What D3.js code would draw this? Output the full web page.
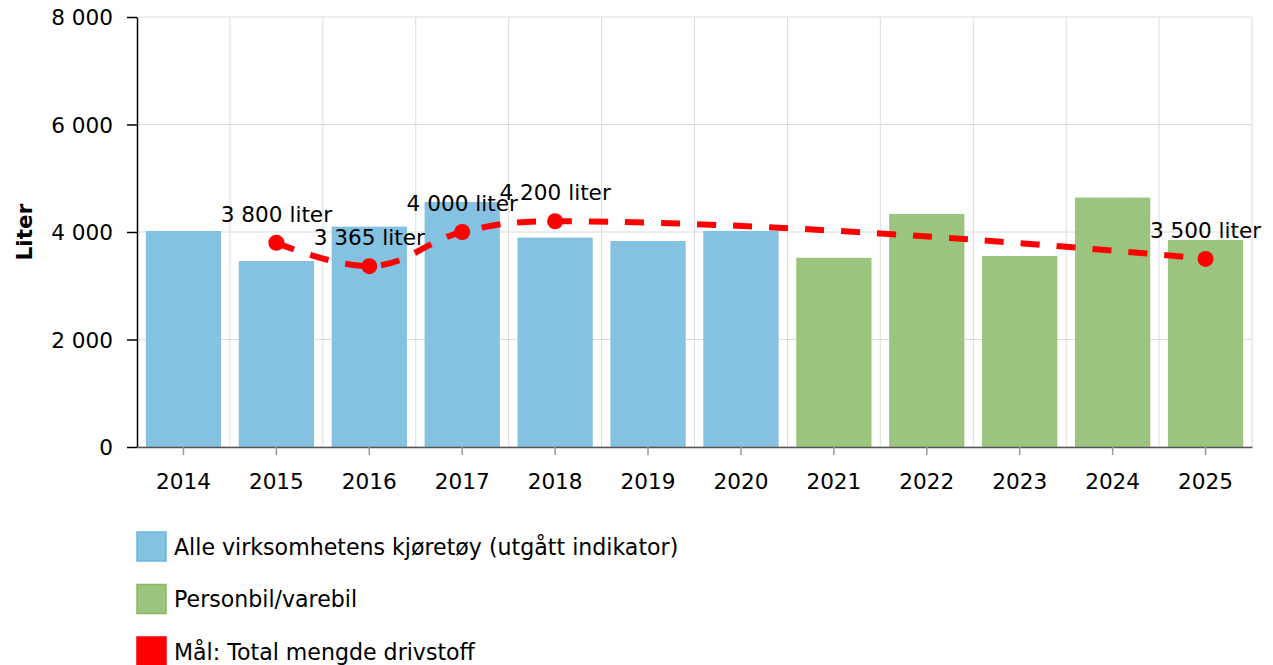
<!DOCTYPE html>
<html><head><meta charset="utf-8">
<script src="https://cdn.jsdelivr.net/npm/d3@7"></script>
<style>
body{margin:0;background:#fff;}
text{font-family:"DejaVu Sans",Verdana,sans-serif;}
</style></head>
<body>
<svg id="chart" width="1273" height="665"></svg>
<script>
const years = ["2014","2015","2016","2017","2018","2019","2020","2021","2022","2023","2024","2025"];
const blueYears = ["2014","2015","2016","2017","2018","2019","2020"];
const blueValues = [4020, 3460, 4100, 4560, 3895, 3833, 4020];
const greenYears = ["2021","2022","2023","2024","2025"];
const greenValues = [3520, 4335, 3553, 4640, 3850];
const targetYears = ["2015","2016","2017","2018","2025"];
const targetValues = [3800, 3365, 4000, 4200, 3500];
const yTicks = [0, 2000, 4000, 6000, 8000];
const seriesNames = ["Alle virksomhetens kjøretøy (utgått indikator)", "Personbil/varebil", "Mål: Total mengde drivstoff"];
const yTitle = "Liter";

const colBlue = "#85c1e1", colGreen = "#9bc47f", colRed = "#ff0000";
const svg = d3.select("#chart");
const M = {left:137, right:1252, top:17, bottom:447};
const loc = d3.formatLocale({thousands:"\u00a0", grouping:[3], decimal:",", currency:["",""]});
const fmt = loc.format(",d");
const FS = 21.6;

const x = d3.scaleBand().domain(years).range([M.left, M.right]).paddingInner(0.19).paddingOuter(0.095);
const xb = d3.scaleBand().domain(years).range([M.left, M.right]);
const y = d3.scaleLinear().domain([0, 8000]).range([M.bottom, M.top]);

// grid
const g = svg.append("g");
g.selectAll(".hg").data(yTicks).join("line")
  .attr("x1", M.left).attr("x2", M.right).attr("y1", d=>y(d)).attr("y2", d=>y(d))
  .attr("stroke", "#dcdcdc").attr("stroke-width", 1);
const vb = years.map(d=>xb(d)).slice(1).concat([M.right]);
g.selectAll(".vg").data(vb).join("line")
  .attr("x1", d=>d).attr("x2", d=>d).attr("y1", M.top).attr("y2", M.bottom)
  .attr("stroke", "#dcdcdc").attr("stroke-width", 1);

// bars
svg.append("g").selectAll("rect").data(blueYears.map((d,i)=>({k:d,v:blueValues[i]}))).join("rect")
  .attr("x", d=>x(d.k)).attr("width", x.bandwidth()).attr("y", d=>y(d.v)).attr("height", d=>y(0)-y(d.v))
  .attr("fill", colBlue);
svg.append("g").selectAll("rect").data(greenYears.map((d,i)=>({k:d,v:greenValues[i]}))).join("rect")
  .attr("x", d=>x(d.k)).attr("width", x.bandwidth()).attr("y", d=>y(d.v)).attr("height", d=>y(0)-y(d.v))
  .attr("fill", colGreen);

// axes
const yAxis = svg.append("g").attr("transform", `translate(${M.left},0)`)
  .call(d3.axisLeft(y).tickValues(yTicks).tickFormat(fmt).tickSize(10).tickSizeOuter(0));
yAxis.select(".domain").attr("stroke", "#000").attr("stroke-width", 1.5);
yAxis.selectAll(".tick line").attr("stroke", "#000").attr("stroke-width", 1.5);
yAxis.selectAll(".tick text").attr("font-size", FS).attr("fill", "#000").attr("x", -24).attr("dy", "0.35em");

const xAxis = svg.append("g").attr("transform", `translate(0,${M.bottom})`)
  .call(d3.axisBottom(xb).tickSize(8).tickSizeOuter(0));
xAxis.select(".domain").attr("stroke", "#555").attr("stroke-width", 1.5);
xAxis.selectAll(".tick line").attr("stroke", "#999").attr("stroke-width", 1.5);
xAxis.selectAll(".tick text").attr("font-size", FS).attr("fill", "#000").attr("y", 27).attr("dy", "0.71em");

svg.append("text").attr("transform", `translate(32,${(M.top+M.bottom)/2}) rotate(-90)`)
  .attr("text-anchor", "middle").attr("font-size", FS).attr("font-weight", "bold").text(yTitle);

// target spline (Highcharts-like)
const pts = targetYears.map((d,i)=>({px: xb(d)+xb.bandwidth()/2, py: y(targetValues[i]), v: targetValues[i]}));
const sm = 1.5, den = sm + 1;
pts.forEach((p,i)=>{
  if (i>0 && i<pts.length-1){
    const a = pts[i-1], n = pts[i+1];
    let lx=(sm*p.px+a.px)/den, ly=(sm*p.py+a.py)/den, rx=(sm*p.px+n.px)/den, ry=(sm*p.py+n.py)/den;
    if (rx!==lx){ const c=((ry-ly)*(rx-p.px))/(rx-lx)+p.py-ry; ly+=c; ry+=c; }
    if (ly>a.py && ly>p.py){ ly=Math.max(a.py,p.py); ry=2*p.py-ly; }
    else if (ly<a.py && ly<p.py){ ly=Math.min(a.py,p.py); ry=2*p.py-ly; }
    if (ry>n.py && ry>p.py){ ry=Math.max(n.py,p.py); ly=2*p.py-ry; }
    else if (ry<n.py && ry<p.py){ ry=Math.min(n.py,p.py); ly=2*p.py-ry; }
    p.lx=lx; p.ly=ly; p.rx=rx; p.ry=ry;
  }
});
const path = d3.path();
pts.forEach((p,i)=>{
  if (i===0) path.moveTo(p.px,p.py);
  else { const a=pts[i-1];
    path.bezierCurveTo(a.rx??a.px, a.ry??a.py, p.lx??p.px, p.ly??p.py, p.px, p.py); }
});
svg.append("path").attr("d", path.toString()).attr("fill","none").attr("stroke", colRed)
  .attr("stroke-width", 6).attr("stroke-dasharray", "19,17");
svg.append("g").selectAll("circle").data(pts).join("circle")
  .attr("cx", d=>d.px).attr("cy", d=>d.py).attr("r", 8).attr("fill", colRed);
svg.append("g").selectAll("text").data(pts).join("text")
  .attr("x", d=>d.px).attr("y", d=>d.py-21).attr("text-anchor","middle").attr("font-size", FS).attr("fill","#000")
  .text(d=>fmt(d.v)+" liter");

// legend
const lg = svg.append("g");
const swFill = [colBlue, colGreen, colRed], swStroke = ["#6db5dc", "#86b866", colRed];
seriesNames.forEach((n,i)=>{
  const yy = 532 + i*52.5;
  lg.append("rect").attr("x",137).attr("y",yy).attr("width",29).attr("height",29)
    .attr("fill", swFill[i]).attr("stroke", swStroke[i]).attr("stroke-width",1.5);
  lg.append("text").attr("x",174).attr("y",yy+15).attr("dy","0.35em").attr("font-size",22.1).attr("fill","#000").text(n);
});
</script>
</body></html>
